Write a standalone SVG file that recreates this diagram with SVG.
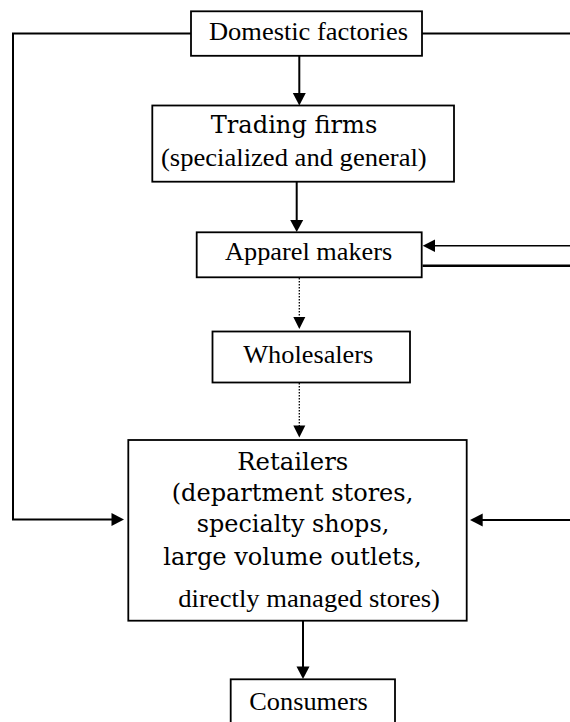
<svg xmlns="http://www.w3.org/2000/svg" width="570" height="722" viewBox="0 0 570 722">
<style>
.box{fill:#fff;stroke:#000;stroke-width:1.8}
.tm{font-family:"Liberation Serif","Times New Roman",serif;font-size:26px;fill:#000}
.cs{font-family:"DejaVu Serif","Liberation Serif",serif;font-size:24px;fill:#000}
.ln{fill:none;stroke:#000;stroke-width:2}
.dot{fill:none;stroke:#000;stroke-width:1.3;stroke-dasharray:1.5 1.5}
.ah{fill:#000;stroke:none}
</style>
<rect width="570" height="722" fill="#fff"/>
<g id="connectors">
<!-- left loop: Domestic factories to Retailers -->
<polyline class="ln" points="191,33.5 13,33.5 13,519.5 112,519.5"/>
<polygon class="ah" points="124,519.5 111.5,513 111.5,526"/>
<!-- right line from Domestic factories -->
<line class="ln" x1="422" y1="33.5" x2="570" y2="33.5"/>
<!-- Domestic -> Trading -->
<line class="ln" x1="299.3" y1="56" x2="299.3" y2="94"/>
<polygon class="ah" points="299.3,105.5 292.8,93 305.8,93"/>
<!-- Trading -> Apparel -->
<line class="ln" x1="296.7" y1="182" x2="296.7" y2="221"/>
<polygon class="ah" points="296.7,232 290.2,220 303.2,220"/>
<!-- incoming to Apparel -->
<line x1="434" y1="245.7" x2="570" y2="245.7" stroke="#000" stroke-width="1.5"/>
<polygon class="ah" points="422.7,245.7 435,239.5 435,252"/>
<line x1="422.5" y1="265.7" x2="570" y2="265.7" stroke="#000" stroke-width="2.4"/>
<!-- Apparel -> Wholesalers (dotted) -->
<line class="dot" x1="299.3" y1="278" x2="299.3" y2="318"/>
<polygon class="ah" points="299.3,329 293.3,317 305.3,317"/>
<!-- Wholesalers -> Retailers (dotted) -->
<line class="dot" x1="299.3" y1="383" x2="299.3" y2="426"/>
<polygon class="ah" points="299.3,437.5 293.3,425.5 305.3,425.5"/>
<!-- right arrow into Retailers -->
<line class="ln" x1="570" y1="520" x2="481" y2="520"/>
<polygon class="ah" points="470,520 482.7,513.5 482.7,526.5"/>
<!-- Retailers -> Consumers -->
<line class="ln" x1="303" y1="621" x2="303" y2="667"/>
<polygon class="ah" points="303,679 296.5,666.5 309.5,666.5"/>
</g>
<g id="domestic-factories">
<rect class="box" x="191" y="11.3" width="231" height="44.5"/>
<text class="tm" x="209" y="40" textLength="199" lengthAdjust="spacingAndGlyphs">Domestic factories</text>
</g>
<g id="trading-firms">
<rect class="box" x="152.3" y="105.5" width="301.7" height="76.2"/>
<text class="cs" x="210.7" y="133.3" textLength="166.7" lengthAdjust="spacingAndGlyphs">Trading firms</text>
<text class="tm" x="161" y="165.7" textLength="265.7" lengthAdjust="spacingAndGlyphs">(specialized and general)</text>
</g>
<g id="apparel-makers">
<rect class="box" x="196.7" y="232.3" width="225" height="45"/>
<text class="tm" x="225" y="260" textLength="167.3" lengthAdjust="spacingAndGlyphs">Apparel makers</text>
</g>
<g id="wholesalers">
<rect class="box" x="212.5" y="331.5" width="197.5" height="51"/>
<text class="tm" x="243.3" y="363.3" textLength="130" lengthAdjust="spacingAndGlyphs">Wholesalers</text>
</g>
<g id="retailers">
<rect class="box" x="128.3" y="440" width="338.4" height="180.7"/>
<text class="cs" x="237.3" y="470" textLength="111" lengthAdjust="spacingAndGlyphs">Retailers</text>
<text class="cs" x="171.7" y="501" textLength="241.6" lengthAdjust="spacingAndGlyphs">(department stores,</text>
<text class="cs" x="196.7" y="531.7" textLength="192.6" lengthAdjust="spacingAndGlyphs">specialty shops,</text>
<text class="cs" x="163.3" y="565" textLength="258.4" lengthAdjust="spacingAndGlyphs">large volume outlets,</text>
<text class="tm" x="178.3" y="606.7" textLength="261.7" lengthAdjust="spacingAndGlyphs">directly managed stores)</text>
</g>
<g id="consumers">
<rect class="box" x="230.7" y="679.3" width="164.3" height="60"/>
<text class="tm" x="249.3" y="710" textLength="118.4" lengthAdjust="spacingAndGlyphs">Consumers</text>
</g>
</svg>
